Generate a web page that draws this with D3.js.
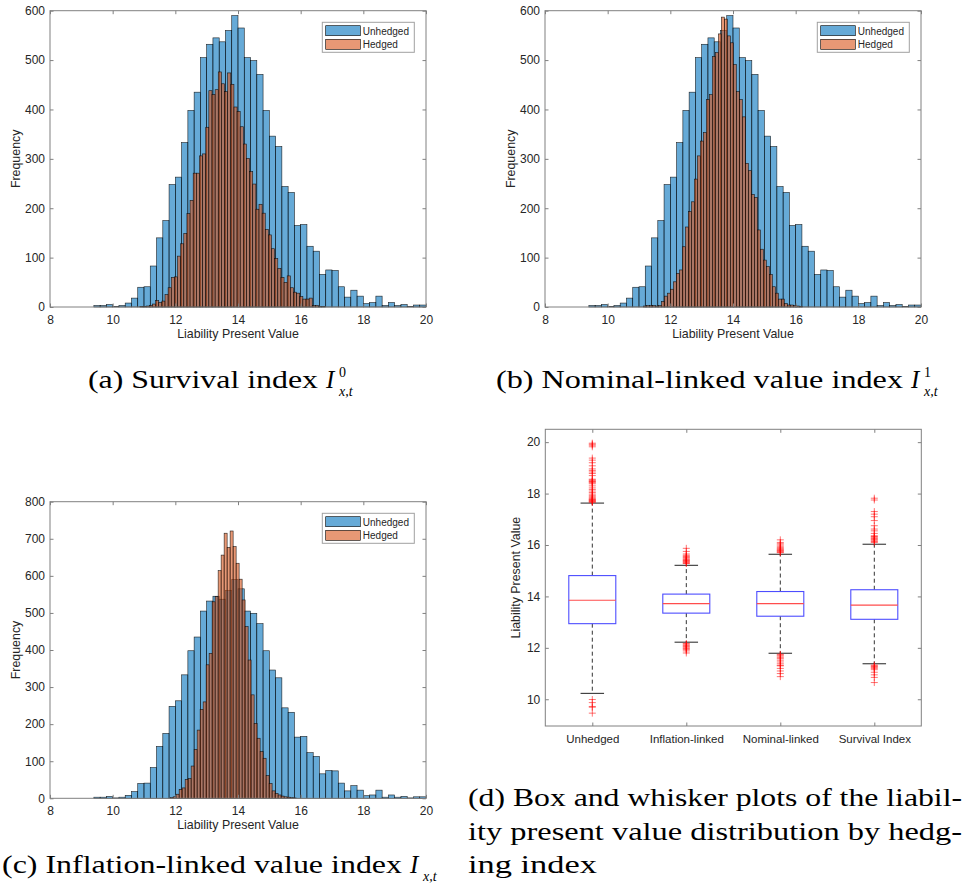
<!DOCTYPE html>
<html><head><meta charset="utf-8">
<script src="https://cdn.jsdelivr.net/npm/d3@7"></script>
<style>body{margin:0;background:#fff}</style>
</head><body><svg id="chart" width="966" height="888"></svg>
<script>
// ---------------- DATA ----------------
const histXTicks = [8, 10, 12, 14, 16, 18, 20];
const freqTicksSmall = [0, 100, 200, 300, 400, 500, 600];
const freqTicksLarge = [0, 100, 200, 300, 400, 500, 600, 700, 800];
const seriesNames = ["Unhedged", "Hedged"];

// unhedged liability PV histogram (same in all three panels)
const unhedgedStart = 9.4, unhedgedWidth = 0.2;
const unhedgedCounts = [3,3,5,1,3,8,18,40,41,83,140,175,248,263,333,398,435,505,532,545,537,560,590,565,505,499,471,398,346,325,244,232,165,167,123,113,66,75,74,41,20,34,22,7,9,22,3,9,3,5,1,4,4];

// hedged with survival index
const survivalStart = 10.87, survivalWidth = 0.1;
const survivalCounts = [1,1,2,3,6,13,9,12,25,39,60,61,103,128,149,189,216,271,271,306,310,364,438,430,440,476,452,436,474,451,405,396,365,330,301,274,249,198,208,190,157,146,118,98,78,60,50,63,39,30,28,21,16,16,18,3,3,1,1];

// hedged with nominal-linked value index
const nominalStart = 11.14, nominalWidth = 0.0957;
const nominalCounts = [2,3,3,3,2,3,11,22,28,36,51,68,75,122,162,193,213,259,306,336,353,420,430,507,515,553,587,583,549,535,491,436,420,385,291,276,228,222,156,117,95,82,66,41,28,16,16,7,4,4,3,2,1];

// hedged with inflation-linked value index
const inflationStart = 11.835, inflationWidth = 0.0957;
const inflationCounts = [2,4,11,24,28,51,53,87,132,184,240,260,360,391,530,544,614,656,715,677,721,679,634,591,535,463,373,279,202,162,126,108,61,40,20,13,9,6,4,3,2,1];

// box plot
const boxCategories = ["Unhedged", "Inflation-linked", "Nominal-linked", "Survival Index"];
const boxTicks = [10, 12, 14, 16, 18, 20];
const boxQ1 = [12.94, 13.35, 13.23, 13.11];
const boxMedian = [13.85, 13.72, 13.72, 13.66];
const boxQ3 = [14.81, 14.09, 14.19, 14.26];
const whiskerLow = [10.23, 12.22, 11.79, 11.38];
const whiskerHigh = [17.63, 15.21, 15.64, 16.03];
const outliersUnhedged = [17.66,17.68,17.7,17.72,17.74,17.76,17.78,17.8,17.84,17.88,17.93,17.98,18.04,18.1,18.16,18.22,18.3,18.38,18.42,18.45,18.47,18.5,18.53,18.56,18.7,18.78,18.84,18.9,18.96,19.08,19.2,19.3,19.38,19.82,19.88,19.92,19.96,9.99,9.87,9.72,9.69,9.46];
const outliersInflation = [15.28,15.3,15.33,15.35,15.38,15.4,15.43,15.46,15.5,15.53,15.56,15.6,15.65,15.75,15.87,12.17,12.14,12.1,12.07,12.04,12.0,11.97,11.93,11.88,11.8];
const outliersNominal = [15.7,15.72,15.75,15.78,15.8,15.83,15.86,15.9,15.95,16.0,16.05,16.1,16.2,11.75,11.72,11.68,11.63,11.58,11.52,11.45,11.38,11.32,11.3,11.2,11.1,11.0,10.88];
const outliersSurvival = [16.1,16.13,16.16,16.2,16.23,16.26,16.3,16.33,16.36,16.45,16.55,16.62,16.75,16.95,17.1,17.2,17.3,17.75,17.82,11.33,11.3,11.27,11.24,11.2,11.15,11.05,10.95,10.85,10.65];
const boxOutliers = [outliersUnhedged, outliersInflation, outliersNominal, outliersSurvival];

// ---------------- DRAWING ----------------
const svg = d3.select("#chart");
svg.append("rect").attr("width", 966).attr("height", 888).attr("fill", "#fff");

const SANS = "'Liberation Sans', Arial, Helvetica, sans-serif";
const SERIF = "'Liberation Serif'";
const AXIS_COLOR = "#808080";
const TEXT_COLOR = "#262626";
const BLUE = "rgb(0,114,189)";
const ORANGE = "rgb(217,83,25)";

function styleAxis(g, fontSize) {
  g.attr("font-family", SANS).attr("font-size", fontSize);
  g.selectAll("line").attr("stroke", AXIS_COLOR);
  g.selectAll("path").remove();
  g.selectAll("text").attr("fill", TEXT_COLOR);
}

function frame(g, x, y) {
  const [x0, x1] = x.range(), [y0, y1] = y.range();
  g.append("rect").attr("x", x0).attr("y", y1).attr("width", x1 - x0).attr("height", y0 - y1)
    .attr("fill", "none").attr("stroke", AXIS_COLOR).attr("stroke-width", 1);
}

function drawBins(g, x, y, start, width, counts, color) {
  const bins = counts.map((c, i) => ({ x0: start + i * width, x1: start + (i + 1) * width, c }))
    .filter(d => d.c > 0);
  g.selectAll(null).data(bins).enter().append("rect")
    .attr("x", d => x(d.x0)).attr("width", d => x(d.x1) - x(d.x0))
    .attr("y", d => y(d.c)).attr("height", d => y(0) - y(d.c))
    .attr("fill", color).attr("fill-opacity", 0.6)
    .attr("stroke", "#000").attr("stroke-width", 0.6).attr("stroke-opacity", 0.85);
}

function histPanel(p, yMax, yTicks, hStart, hWidth, hCounts) {
  const g = svg.append("g");
  const x = d3.scaleLinear().domain([8, 20]).range([p.left, p.right]);
  const y = d3.scaleLinear().domain([0, yMax]).range([p.bottom, p.top]);
  drawBins(g, x, y, unhedgedStart, unhedgedWidth, unhedgedCounts, BLUE);
  drawBins(g, x, y, hStart, hWidth, hCounts, ORANGE);

  const ax = g.append("g").attr("transform", `translate(0,${p.bottom})`)
    .call(d3.axisBottom(x).tickValues(histXTicks).tickFormat(d3.format("d")).tickSizeInner(-3.5).tickSizeOuter(0).tickPadding(8.5));
  styleAxis(ax, 12);
  const axT = g.append("g").attr("transform", `translate(0,${p.top})`)
    .call(d3.axisTop(x).tickValues(histXTicks).tickFormat("").tickSizeInner(-3.5).tickSizeOuter(0));
  styleAxis(axT, 12);
  const ay = g.append("g").attr("transform", `translate(${p.left},0)`)
    .call(d3.axisLeft(y).tickValues(yTicks).tickFormat(d3.format("d")).tickSizeInner(-3.5).tickSizeOuter(0).tickPadding(5));
  styleAxis(ay, 12);
  const ayR = g.append("g").attr("transform", `translate(${p.right},0)`)
    .call(d3.axisRight(y).tickValues(yTicks).tickFormat("").tickSizeInner(-3.5).tickSizeOuter(0));
  styleAxis(ayR, 12);
  frame(g, x, y);

  g.append("text").attr("x", (p.left + p.right) / 2).attr("y", p.bottom + 31)
    .attr("text-anchor", "middle").attr("font-family", SANS).attr("font-size", 12.4)
    .attr("fill", TEXT_COLOR).text("Liability Present Value");
  g.append("text").attr("transform", `translate(${p.left - 30.5},${(p.top + p.bottom) / 2}) rotate(-90)`)
    .attr("text-anchor", "middle").attr("font-family", SANS).attr("font-size", 12.4)
    .attr("fill", TEXT_COLOR).text("Frequency");

  // legend
  const lx = p.right - 103.7, ly = p.top + 11.6;
  const lg = g.append("g");
  lg.append("rect").attr("x", lx).attr("y", ly).attr("width", 92).attr("height", 30)
    .attr("fill", "#fff").attr("stroke", "#a0a0a0").attr("stroke-width", 1);
  [BLUE, ORANGE].forEach((c, i) => {
    lg.append("rect").attr("x", lx + 3.4).attr("y", ly + 3.4 + i * 13.6).attr("width", 34.6).attr("height", 10)
      .attr("fill", c).attr("fill-opacity", 0.6).attr("stroke", "#000").attr("stroke-width", 0.6);
    lg.append("text").attr("x", lx + 40.5).attr("y", ly + 12.2 + i * 13.6)
      .attr("font-family", SANS).attr("font-size", 10).attr("fill", TEXT_COLOR).text(seriesNames[i]);
  });
}

histPanel({ left: 50, right: 426, top: 10.7, bottom: 307 }, 600, freqTicksSmall, survivalStart, survivalWidth, survivalCounts);
histPanel({ left: 545, right: 921, top: 10.7, bottom: 307 }, 600, freqTicksSmall, nominalStart, nominalWidth, nominalCounts);
histPanel({ left: 50, right: 426, top: 501.7, bottom: 798.3 }, 800, freqTicksLarge, inflationStart, inflationWidth, inflationCounts);

// box plot panel
(function () {
  const p = { left: 545.3, right: 921.3, top: 429.3, bottom: 726 };
  const g = svg.append("g");
  const x = d3.scaleLinear().domain([0.5, 4.5]).range([p.left, p.right]);
  const y = d3.scaleLinear().domain([8.96, 20.5]).range([p.bottom, p.top]);
  const pos = boxCategories.map((_, i) => i + 1);

  const ax = g.append("g").attr("transform", `translate(0,${p.bottom})`)
    .call(d3.axisBottom(x).tickValues(pos).tickFormat((d, i) => boxCategories[i]).tickSizeInner(-3.5).tickSizeOuter(0).tickPadding(8.5));
  styleAxis(ax, 11.5);
  const axT = g.append("g").attr("transform", `translate(0,${p.top})`)
    .call(d3.axisTop(x).tickValues(pos).tickFormat("").tickSizeInner(-3.5).tickSizeOuter(0));
  styleAxis(axT, 12);
  const ay = g.append("g").attr("transform", `translate(${p.left},0)`)
    .call(d3.axisLeft(y).tickValues(boxTicks).tickFormat(d3.format("d")).tickSizeInner(-3.5).tickSizeOuter(0).tickPadding(5));
  styleAxis(ay, 12);
  const ayR = g.append("g").attr("transform", `translate(${p.right},0)`)
    .call(d3.axisRight(y).tickValues(boxTicks).tickFormat("").tickSizeInner(-3.5).tickSizeOuter(0));
  styleAxis(ayR, 12);
  frame(g, x, y);

  const bw = 0.25, cw = 0.125;
  pos.forEach((c, i) => {
    g.append("line").attr("x1", x(c)).attr("x2", x(c)).attr("y1", y(boxQ3[i])).attr("y2", y(whiskerHigh[i]))
      .attr("stroke", "#333").attr("stroke-dasharray", "4,3").attr("stroke-width", 1);
    g.append("line").attr("x1", x(c)).attr("x2", x(c)).attr("y1", y(boxQ1[i])).attr("y2", y(whiskerLow[i]))
      .attr("stroke", "#333").attr("stroke-dasharray", "4,3").attr("stroke-width", 1);
    [whiskerHigh[i], whiskerLow[i]].forEach(v => {
      g.append("line").attr("x1", x(c - cw)).attr("x2", x(c + cw)).attr("y1", y(v)).attr("y2", y(v))
        .attr("stroke", "#222").attr("stroke-width", 1);
    });
    g.append("rect").attr("x", x(c - bw)).attr("width", x(c + bw) - x(c - bw))
      .attr("y", y(boxQ3[i])).attr("height", y(boxQ1[i]) - y(boxQ3[i]))
      .attr("fill", "none").attr("stroke", "#4d4dff").attr("stroke-width", 1.1);
    g.append("line").attr("x1", x(c - bw)).attr("x2", x(c + bw)).attr("y1", y(boxMedian[i])).attr("y2", y(boxMedian[i]))
      .attr("stroke", "#ff4d4d").attr("stroke-width", 1.1);
    g.selectAll(null).data(boxOutliers[i]).enter().append("path")
      .attr("d", v => `M${x(c) - 3.5},${y(v)}H${x(c) + 3.5}M${x(c)},${y(v) - 3.5}V${y(v) + 3.5}`)
      .attr("stroke", "#ff0000").attr("stroke-opacity", 0.55).attr("stroke-width", 1).attr("fill", "none");
  });

  g.append("text").attr("transform", `translate(${p.left - 25},${(p.top + p.bottom) / 2}) rotate(-90)`)
    .attr("text-anchor", "middle").attr("font-family", SANS).attr("font-size", 12.4)
    .attr("fill", TEXT_COLOR).text("Liability Present Value");
})();

// ---------------- CAPTIONS ----------------
function capText(x, y, str, len) {
  const t = svg.append("text").attr("x", x).attr("y", y).attr("font-family", SERIF).attr("font-size", 25)
    .attr("fill", "#000").text(str);
  if (len) t.attr("textLength", len).attr("lengthAdjust", "spacingAndGlyphs");
  return t;
}
function mathI(x, y, sup, sub) {
  svg.append("text").attr("x", x).attr("y", y).attr("font-family", SERIF).attr("font-size", 25)
    .attr("font-style", "italic").text("I");
  if (sup) svg.append("text").attr("x", x + 13).attr("y", y - 11).attr("font-family", SERIF).attr("font-size", 14).text(sup);
  if (sub) svg.append("text").attr("x", x + 13).attr("y", y + 7.5).attr("font-family", SERIF).attr("font-size", 14)
    .attr("font-style", "italic").text(sub);
}

capText(88, 388, "(a) Survival index", 230);
mathI(326, 388, "0", "x,t");
capText(496, 388, "(b) Nominal-linked value index", 407);
mathI(911, 388, "1", "x,t");
capText(2, 873, "(c) Inflation-linked value index", 400);
mathI(410, 873, null, "x,t");
capText(468, 806, "(d) Box and whisker plots of the liabil-", 494);
capText(468, 840, "ity present value distribution by hedg-", 494);
capText(468, 873, "ing index", 129);
</script>
</body></html>
